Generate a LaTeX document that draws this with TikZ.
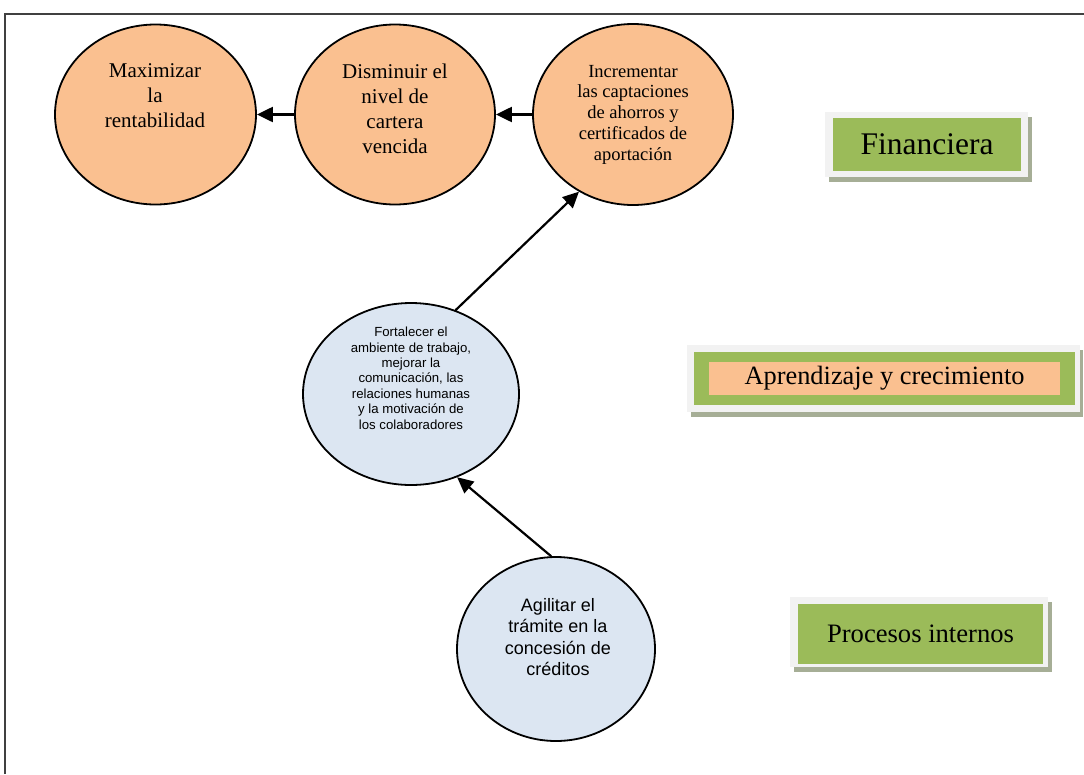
\documentclass[tikz,border=0pt]{standalone}
\usepackage{fontspec}
\setmainfont{Liberation Serif}
\newfontfamily\arialfont{Liberation Sans}
\usetikzlibrary{shapes.geometric,arrows.meta}
\definecolor{ellorange}{HTML}{FAC090}
\definecolor{ellblue}{HTML}{DCE6F2}
\definecolor{boxgreen}{HTML}{9BBB59}
\definecolor{boxlight}{HTML}{F2F2F2}
\definecolor{boxshadow}{HTML}{A6AE96}
\definecolor{framegray}{HTML}{404040}
\tikzset{
  orangeell/.style={ellipse, draw=black, line width=1.8pt, fill=ellorange, inner sep=0pt},
  blueell/.style={ellipse, draw=black, line width=1.8pt, fill=ellblue, inner sep=0pt},
  elltext/.style={anchor=north, align=center, inner sep=0pt},
  conn/.style={line width=2.2pt, -{Triangle[length=16pt,width=15pt]}},
  greenbox/.style={fill=boxgreen, inner sep=0pt},
  orangebox/.style={fill=ellorange, inner sep=0pt},
}
\begin{document}
\begin{tikzpicture}[x=1pt,y=-1pt]
\useasboundingbox (0,0) rectangle (1084,774);
\fill[white] (0,0) rectangle (1084,774);
% frame
\draw[framegray, line width=2.2pt] (5,774) -- (5,14) -- (1084,14);

% ellipses
\node[orangeell, minimum width=201pt, minimum height=180pt] (e1) at (155.5,114.5) {};
\node[orangeell, minimum width=200pt, minimum height=180pt] (e2) at (395,114.5) {};
\node[orangeell, minimum width=200pt, minimum height=181pt] (e3) at (633,114.5) {};
\node[blueell, minimum width=216pt, minimum height=182pt] (e4) at (411,394) {};
\node[blueell, minimum width=198pt, minimum height=184pt] (e5) at (556,649) {};

% ellipse texts
\node[elltext, font=\fontsize{21}{25}\selectfont] (t1) at (155,63.7) {Maximizar\\la\\rentabilidad};
\node[elltext, font=\fontsize{21}{25}\selectfont] (t2) at (395,63.7) {Disminuir el\\nivel de\\cartera\\vencida};
\node[elltext, font=\fontsize{18.5}{20.8}\selectfont] (t3) at (633,64.7) {Incrementar\\las captaciones\\de ahorros y\\certificados de\\aportación};
\node[elltext, font=\arialfont\fontsize{13.2}{15.4}\selectfont] (t4) at (411,327) {Fortalecer el\\ambiente de trabajo,\\mejorar la\\comunicación, las\\relaciones humanas\\y la motivación de\\los colaboradores};
\node[elltext, font=\arialfont\fontsize{18}{21.5}\selectfont] (t5) at (558,598) {Agilitar el\\trámite en la\\concesión de\\créditos};

% connectors
\draw[conn] (e2.west) -- (e1.east);
\draw[conn] (e3.west) -- (e2.east);
\draw[conn] (e4.62.4) -- (e3.235.5);
\draw[conn] (e5.93.7) -- (e4.299.4);

% perspective boxes
\fill[boxshadow] (829,117) rectangle (1032,182);
\fill[boxlight] (825,112) rectangle (1028,177);
\node[greenbox, minimum width=188pt, minimum height=53pt, font=\fontsize{31.5}{36}\selectfont] (fin) at (927,144.5) {Financiera};

\fill[boxshadow] (691,350) rectangle (1083,417);
\fill[boxlight] (687,345) rectangle (1080,412);
\node[greenbox, minimum width=381pt, minimum height=53pt] (apg) at (884.5,378.5) {};
\node[orangebox, minimum width=351pt, minimum height=33pt, font=\fontsize{26.4}{30}\selectfont] (apr) at (884.5,378.5) {Aprendizaje y crecimiento};

\fill[boxshadow] (794,602) rectangle (1052,672);
\fill[boxlight] (790,597) rectangle (1048,667);
\node[greenbox, minimum width=245pt, minimum height=60pt, font=\fontsize{26.6}{30}\selectfont] (pro) at (920.5,634) {Procesos internos};
\end{tikzpicture}
\end{document}
